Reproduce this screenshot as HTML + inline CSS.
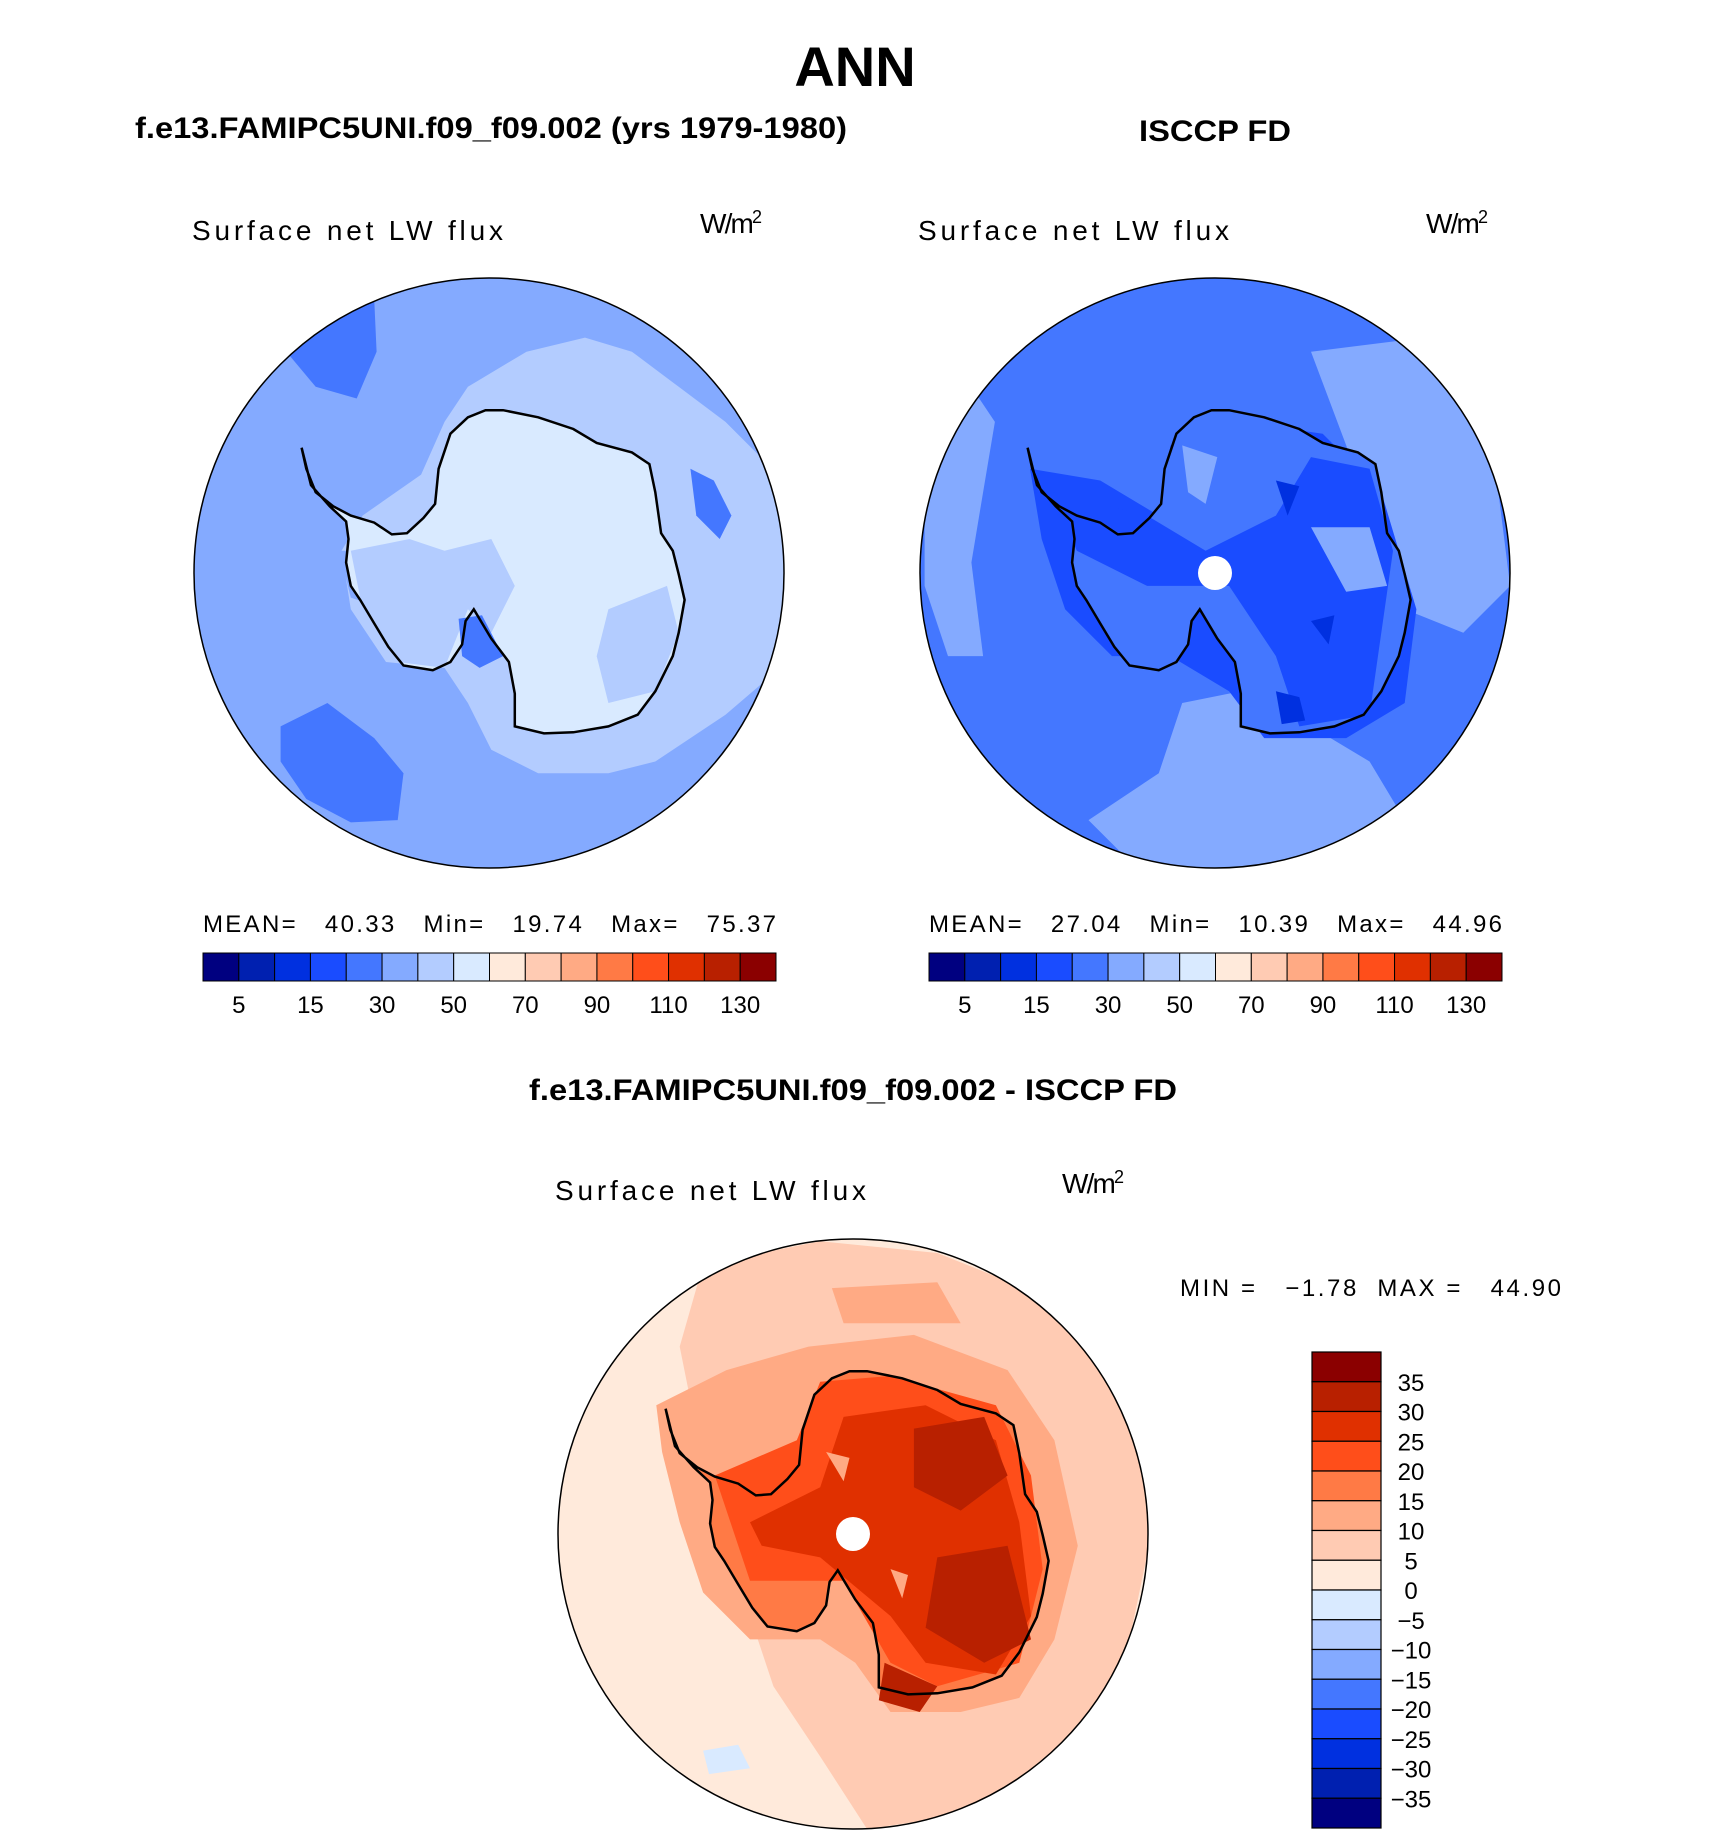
<!DOCTYPE html>
<html><head><meta charset="utf-8"><style>
html,body{margin:0;padding:0;background:#fff;}
svg{display:block;font-family:"Liberation Sans",sans-serif;}
</style></head><body>
<svg id="fig" width="1710" height="1840" viewBox="0 0 1710 1840" xmlns="http://www.w3.org/2000/svg">
<text x="855" y="86" font-size="56" font-weight="bold" text-anchor="middle">ANN</text>
<text x="135" y="138" font-size="30" font-weight="bold" textLength="712" lengthAdjust="spacingAndGlyphs">f.e13.FAMIPC5UNI.f09_f09.002 (yrs 1979-1980)</text>
<text x="1139" y="141" font-size="30" font-weight="bold" textLength="152" lengthAdjust="spacingAndGlyphs">ISCCP FD</text>
<text x="529" y="1100" font-size="30" font-weight="bold" textLength="648" lengthAdjust="spacingAndGlyphs">f.e13.FAMIPC5UNI.f09_f09.002 - ISCCP FD</text>
<g id="content"></g>
</svg>
<script>
const levels = [5,10,15,20,30,40,50,60,70,80,90,100,110,120,130];
const levelLabels = ["5","15","30","50","70","90","110","130"];
const diffLevels = [-35,-30,-25,-20,-15,-10,-5,0,5,10,15,20,25,30,35];
const colors = ["#000080","#0020b0","#0030e0","#1a4cff","#4477ff","#84aaff","#b3ccff","#d9eaff","#ffeadb","#ffcbb3","#ffaa84","#ff7a45","#ff4e1a","#e03000","#b82000","#8b0000"];
const stats1 = ["40.33","19.74","75.37"];
const stats2 = ["27.04","10.39","44.96"];
const diffStats = ["\u22121.78","44.90"];

const NS="http://www.w3.org/2000/svg";
const S=1.171;
const root=document.getElementById('content');
function mk(tag,attrs,parent){const e=document.createElementNS(NS,tag);for(const k in attrs)e.setAttribute(k,attrs[k]);(parent||root).appendChild(e);return e;}

const coast=[[258,382],[262,400],[270,420],[285,432],[300,440],[320,446],[335,456],[348,455],[362,442],[372,430],[375,400],[385,370],[400,356],[415,350],[430,350],[460,356],[490,366],[510,378],[540,386],[555,396],[560,420],[565,455],[575,470],[580,490],[585,512],[580,540],[575,560],[560,590],[545,610],[520,620],[490,625],[465,626],[440,620],[440,592],[435,565],[420,545],[405,520],[398,530],[395,550],[385,565],[370,572],[345,568],[332,552],[320,532],[308,512],[300,500],[296,480],[298,460],[296,445],[282,432],[266,414]];
function poly(pts,cx,cy,ox,oy){return pts.map(p=>((cx+(p[0]-ox)*S).toFixed(1)+','+(cy+(p[1]-oy)*S).toFixed(1))).join(' ');}

function drawMap(name,cx,cy,base,blobs,ox,oy,pole){
  const g=mk('g',{});
  
  
  const id='clip-'+name;
  const cp=mk('clipPath',{id:id},g);mk('circle',{cx:cx,cy:cy,r:295},cp);
  const inner=mk('g',{'clip-path':'url(#'+id+')'},g);
  mk('circle',{cx:cx,cy:cy,r:295,fill:base},inner);
  blobs.forEach(b=>{
    const pts=b[1]==='coast'?coast.map(p=>[p[0]-418+ox,p[1]-489+oy]):b[1];
    const p=mk('polygon',{points:poly(pts,cx,cy,ox,oy),fill:b[0]},inner);
    
    
  });
  const cl=mk('polygon',{points:poly(coast.map(p=>[p[0]-418+ox,p[1]-489+oy]),cx,cy,ox,oy),fill:'none',stroke:'#000','stroke-width':2.5},g);
  
  
  if(pole){const d=mk('circle',{cx:cx,cy:cy,r:17,fill:'#fff'},g);}
  const o=mk('circle',{cx:cx,cy:cy,r:295,fill:'none',stroke:'#000','stroke-width':1.5},g);
  
  
}
function sh(pts,dx,dy){return pts.map(p=>[p[0]+dx,p[1]+dy]);}

drawMap('model-map',489,573,'#84aaff',[
 ['#b3ccff',[[400,330],[450,300],[500,288],[540,300],[580,330],[620,360],[650,390],[672,450],[672,520],[655,580],[620,610],[590,630],[560,650],[520,660],[460,660],[420,640],[400,600],[380,570],[330,565],[300,520],[292,470],[310,440],[360,405],[380,360]]],
 ['#4477ff',[[245,300],[280,270],[320,255],[322,300],[305,340],[270,330]]],
 ['#4477ff',[[240,620],[280,600],[320,630],[345,660],[340,700],[300,702],[262,682],[240,650]]],
 ['#4477ff',[[590,400],[610,410],[625,440],[615,460],[595,440]]],
 ['#84aaff',[[290,470],[330,470],[360,500],[330,520],[300,510]]],
 ['#d9eaff','coast'],
 ['#b3ccff',[[300,470],[350,460],[380,470],[420,460],[440,500],[420,540],[400,520],[380,570],[340,565],[310,520]]],
 ['#b3ccff',[[520,520],[570,500],[580,540],[560,590],[520,600],[510,560]]],
 ['#4477ff',[[392,528],[412,525],[430,560],[410,570],[395,560]]]
],418,489,false);

drawMap('obs-map',1215,573,'#4477ff',[
 ['#84aaff',[[790,380],[830,330],[850,360],[840,420],[830,480],[840,560],[810,560],[790,500]]],
 ['#84aaff',[[930,700],[990,660],[1010,600],[1060,590],[1120,620],[1170,650],[1200,700],[1150,740],[1040,745],[960,730]]],
 ['#84aaff',[[1120,300],[1200,290],[1250,330],[1280,420],[1290,500],[1250,540],[1200,520],[1170,440],[1150,380]]],
 ['#1a4cff',[[880,400],[940,410],[990,440],[1000,380],[1060,360],[1130,370],[1180,420],[1210,520],[1200,600],[1150,630],[1080,630],[1050,590],[1000,560],[950,560],[910,520],[890,460]]],
 ['#4477ff','coast'],
 ['#1a4cff',[[900,420],[980,440],[1030,470],[1090,440],[1120,390],[1170,400],[1190,470],[1180,540],[1170,610],[1110,620],[1090,560],[1050,500],[980,500],[920,470]]],
 ['#84aaff',[[1010,380],[1040,390],[1030,430],[1015,420]]],
 ['#84aaff',[[1120,450],[1170,450],[1185,500],[1150,505]]],
 ['#0030e0',[[1090,410],[1110,415],[1100,440]]],
 ['#0030e0',[[1090,590],[1110,595],[1115,615],[1095,618]]],
 ['#0030e0',[[1120,530],[1140,525],[1135,550]]]
],1038,489,true);

drawMap('diff-map',853,1534,'#ffeadb',[
 ['#ffcbb3',[[600,1080],[700,1060],[800,1070],[900,1110],[960,1180],[985,1300],[960,1420],[900,1500],[820,1550],[740,1562],[700,1500],[660,1440],[640,1380],[600,1250],[580,1150]]],
 ['#ffaa84',[[560,1200],[620,1170],[690,1150],[780,1140],[860,1170],[900,1230],[920,1320],[900,1400],[870,1450],[820,1462],[760,1462],[730,1420],[700,1400],[640,1400],[600,1360],[580,1300],[565,1240]]],
 ['#ffaa84',[[710,1100],[800,1095],[820,1130],[720,1130]]],
 ['#d9eaff',[[600,1495],[630,1490],[640,1510],[605,1515]]],
 ['#ff7a45',sh(coast,310,821)],
 ['#ff4e1a',[[610,1260],[680,1230],[700,1180],[760,1175],[850,1200],[880,1260],[890,1340],[870,1420],[800,1440],[760,1420],[720,1350],[640,1350]]],
 ['#e03000',[[640,1300],[700,1270],[720,1210],[790,1200],[850,1230],[870,1300],[880,1380],[850,1430],[790,1420],[760,1380],[700,1330],[650,1320]]],
 ['#b82000',[[780,1220],[840,1210],[860,1260],[820,1290],[780,1270]]],
 ['#b82000',[[800,1330],[860,1320],[880,1400],[840,1420],[790,1390]]],
 ['#b82000',[[755,1420],[800,1440],[785,1462],[750,1452]]],
 ['#ffaa84',[[705,1240],[725,1245],[720,1265]]],
 ['#ffaa84',[[760,1340],[775,1345],[770,1365]]]
],728,1310,true);

function txt(x,y,s,size,name,len){const t=mk('text',{x:x,y:y,'font-size':size});if(len){t.setAttribute('textLength',len);t.setAttribute('lengthAdjust','spacing');}t.textContent=s;return t;}
function unit(x,y,name){const t=txt(x,y,'W/m',28,name,62);const sp=mk('tspan',{dy:-10,'font-size':18},t);sp.textContent='2';}
txt(192,240,'Surface net LW flux',28,'model-var-label',311);unit(700,233,'model-units');
txt(918,240,'Surface net LW flux',28,'obs-var-label',311);unit(1426,233,'obs-units');
txt(555,1200,'Surface net LW flux',28,'diff-var-label',311);unit(1062,1193,'diff-units');

function hbar(x0,name,stats){
  const w=(776-203)/16;
  const g=mk('g',{});
  colors.forEach((c,i)=>{const r=mk('rect',{x:x0+i*w,y:953,width:w,height:28,fill:c,stroke:'#000','stroke-width':1},g);});
  levelLabels.forEach((l,j)=>{const t=mk('text',{x:x0+(2*j+1)*w,y:1013,'font-size':24,'text-anchor':'middle'},g);t.textContent=l;});
  const s=mk('text',{x:x0,y:932,'font-size':24,textLength:573,lengthAdjust:'spacing'},g);s.textContent='MEAN=   '+stats[0]+'   Min=   '+stats[1]+'   Max=   '+stats[2];s.style.whiteSpace='pre';
}
hbar(203,'model-colorbar',stats1);
hbar(929,'obs-colorbar',stats2);

(function(){
  const g=mk('g',{});
  const top=1352,h=(1828-1352)/16;
  colors.slice().reverse().forEach((c,i)=>{const r=mk('rect',{x:1312,y:top+i*h,width:69,height:h,fill:c,stroke:'#000','stroke-width':1.2},g);});
  diffLevels.slice().reverse().forEach((v,i)=>{const t=mk('text',{x:1411,y:top+(i+1)*h+9,'font-size':24,'text-anchor':'middle'},g);t.textContent=v<0?'\u2212'+(-v):String(v);});
  const s=mk('text',{x:1180,y:1296,'font-size':24,textLength:381,lengthAdjust:'spacing'},g);s.textContent='MIN =   '+diffStats[0]+'  MAX =   '+diffStats[1];s.style.whiteSpace='pre';
})();
</script>
</body></html>
